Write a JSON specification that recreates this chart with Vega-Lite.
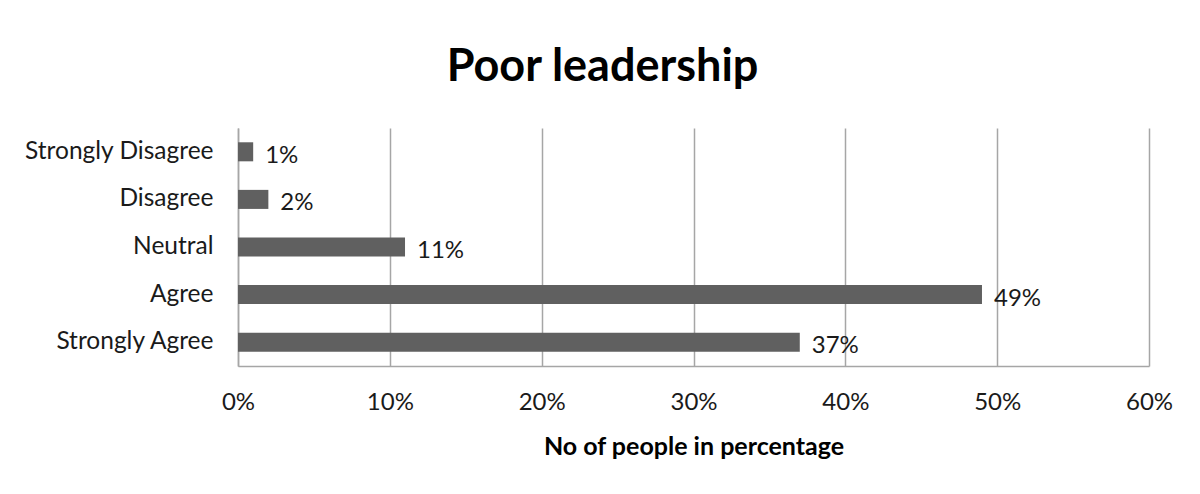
{
  "$schema": "https://vega.github.io/schema/vega-lite/v6.json",
  "width": 911,
  "height": 238,
  "autosize": {"type": "none"},
  "padding": {"left": 238, "top": 128, "right": 51, "bottom": 128},
  "background": "white",
  "title": {
    "text": "Poor leadership",
    "font": "Lato",
    "fontSize": 45,
    "fontWeight": "bold",
    "color": "#000000",
    "anchor": "middle",
    "frame": "group",
    "dx": -91,
    "offset": 38
  },
  "data": {
    "values": [
      {"response": "Strongly Disagree", "share": 0.01},
      {"response": "Disagree", "share": 0.02},
      {"response": "Neutral", "share": 0.11},
      {"response": "Agree", "share": 0.49},
      {"response": "Strongly Agree", "share": 0.37}
    ]
  },
  "encoding": {
    "y": {
      "field": "response",
      "type": "nominal",
      "sort": null,
      "scale": {"paddingInner": 0.6, "paddingOuter": 0.3},
      "axis": {
        "title": null,
        "ticks": false,
        "labelFont": "Lato",
        "labelFontSize": 24.5,
        "labelLimit": 400,
        "labelColor": "#1a1a1a",
        "labelPadding": 25,
        "domainColor": "#a6a6a6",
        "domainWidth": 1.5,
        "grid": false
      }
    },
    "x": {
      "field": "share",
      "type": "quantitative",
      "scale": {"domain": [0, 0.6], "nice": false},
      "axis": {
        "values": [0, 0.1, 0.2, 0.3, 0.4, 0.5, 0.6],
        "format": ".0%",
        "labelFlush": false,
        "title": "No of people in percentage",
        "titleFont": "Lato",
        "titleFontSize": 25,
        "titleFontWeight": "bold",
        "titleColor": "#000000",
        "titlePadding": 20,
        "ticks": false,
        "labelFont": "Lato",
        "labelFontSize": 24,
        "labelColor": "#1a1a1a",
        "labelPadding": 24,
        "domainColor": "#a6a6a6",
        "domainWidth": 1.5,
        "grid": true,
        "gridColor": "#a6a6a6",
        "gridWidth": 1.5
      }
    }
  },
  "layer": [
    {"mark": {"type": "bar", "color": "#606060"}},
    {
      "mark": {"type": "text", "align": "left", "baseline": "middle", "dx": 12, "dy": 4, "font": "Lato", "fontSize": 24, "color": "#1a1a1a"},
      "encoding": {"text": {"field": "share", "type": "quantitative", "format": ".0%"}}
    }
  ],
  "config": {"view": {"stroke": null}}
}
